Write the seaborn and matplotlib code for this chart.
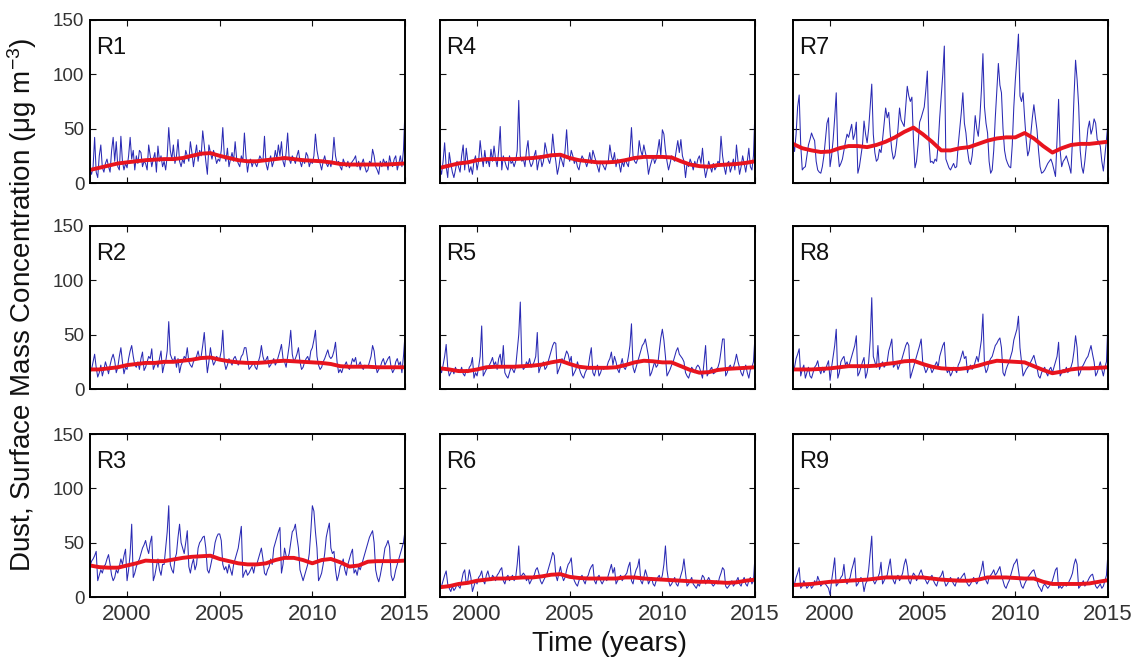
import numpy as np
import pandas as pd
import matplotlib
matplotlib.use("Agg")
import matplotlib.pyplot as plt
import seaborn as sns

# ---------------- data (monthly, Jan 1998 .. Jan 2015) ----------------
R1 = [12, 8, 15, 42, 10, 5, 25, 35, 14, 10, 18, 22,
      15, 10, 30, 42, 20, 38, 15, 12, 43, 20, 12, 18,
      14, 25, 42, 22, 30, 12, 25, 18, 30, 28, 15, 20,
      18, 12, 35, 25, 15, 22, 28, 10, 34, 20, 25, 15,
      20, 12, 25, 51, 30, 22, 35, 18, 25, 40, 20, 15,
      22, 18, 30, 25, 20, 38, 28, 15, 25, 35, 20, 30,
      25, 48, 35, 20, 8, 35, 28, 22, 30, 25, 18, 22,
      20, 30, 51, 25, 20, 32, 15, 22, 28, 20, 38, 22,
      18, 15, 25, 20, 46, 25, 10, 20, 22, 15, 20, 18,
      15, 20, 25, 22, 20, 43, 18, 12, 20, 25, 15, 20,
      30, 22, 35, 25, 38, 20, 15, 28, 46, 22, 18, 25,
      22, 18, 25, 30, 20, 15, 22, 18, 28, 25, 15, 20,
      18, 25, 45, 30, 22, 18, 12, 20, 25, 18, 15, 20,
      15, 22, 42, 25, 18, 20, 15, 12, 22, 18, 15, 20,
      14, 18, 20, 22, 25, 15, 20, 12, 18, 22, 15, 10,
      12, 20, 18, 31, 25, 15, 12, 8, 20, 15, 22, 18,
      20, 12, 25, 18, 15, 22, 25, 12, 18, 25, 15, 30,
      68]
R2 = [15, 18, 25, 32, 20, 11, 15, 22, 12, 18, 25, 20,
      14, 22, 28, 32, 26, 15, 20, 30, 38, 25, 14, 20,
      18, 28, 35, 40, 30, 22, 20, 25, 18, 28, 34, 17,
      20, 25, 30, 28, 37, 18, 22, 25, 20, 28, 35, 15,
      22, 25, 35, 62, 32, 28, 25, 30, 20, 28, 15, 22,
      25, 30, 28, 38, 25, 22, 20, 25, 28, 30, 35, 28,
      30, 40, 52, 32, 15, 25, 38, 28, 22, 25, 30, 28,
      28, 35, 54, 25, 18, 22, 28, 25, 22, 28, 30, 26,
      22, 25, 30, 32, 38, 38, 28, 18, 20, 22, 25, 20,
      18, 25, 30, 40, 30, 25, 27, 30, 20, 22, 25, 28,
      22, 25, 30, 35, 41, 28, 25, 20, 30, 40, 54, 32,
      25, 28, 32, 38, 25, 18, 20, 25, 28, 30, 25, 35,
      38, 45, 54, 30, 22, 18, 20, 25, 28, 32, 36, 30,
      28, 30, 35, 43, 25, 15, 18, 15, 20, 22, 25, 20,
      18, 22, 28, 25, 29, 20, 22, 25, 20, 18, 22, 20,
      20, 25, 30, 40, 35, 22, 15, 18, 20, 25, 28, 22,
      25, 28, 30, 20, 15, 18, 25, 28, 22, 25, 15, 30,
      50]
R3 = [28, 33, 35, 38, 42, 15, 20, 25, 22, 28, 30, 35,
      39, 30, 20, 15, 18, 25, 22, 28, 35, 30, 38, 44,
      15, 25, 40, 67, 18, 22, 28, 32, 35, 40, 45, 48,
      52, 45, 40, 50, 56, 15, 20, 28, 35, 25, 20, 30,
      30, 45, 60, 84, 30, 25, 22, 35, 40, 55, 67, 50,
      45, 40, 50, 61, 28, 22, 30, 35, 25, 30, 45, 50,
      52, 55, 56, 45, 25, 22, 28, 35, 40, 50, 55, 58,
      58, 52, 30, 25, 28, 22, 30, 25, 20, 30, 35, 40,
      45, 55, 65, 18, 22, 25, 20, 22, 25, 28, 22, 30,
      30, 35, 40, 45, 35, 22, 20, 25, 28, 35, 30, 45,
      50, 55, 60, 64, 22, 30, 45, 38, 35, 40, 50, 60,
      62, 67, 55, 45, 25, 20, 15, 20, 25, 30, 40, 60,
      84, 79, 60, 45, 15, 18, 22, 30, 40, 55, 62, 68,
      45, 40, 42, 25, 15, 20, 28, 30, 35, 25, 20, 30,
      35, 40, 44, 22, 25, 20, 28, 25, 30, 35, 40, 45,
      50, 55, 58, 61, 50, 25, 18, 14, 20, 28, 35, 45,
      48, 52, 46, 20, 15, 18, 25, 30, 35, 40, 45, 50,
      61]
R4 = [14, 8, 20, 37, 15, 5, 28, 18, 10, 5, 12, 20,
      15, 10, 25, 35, 12, 32, 20, 10, 15, 8, 20, 25,
      12, 20, 39, 25, 15, 30, 18, 22, 15, 31, 20, 34,
      22, 15, 30, 52, 12, 25, 20, 15, 12, 25, 18, 20,
      15, 20, 30, 76, 25, 20, 22, 15, 30, 39, 20, 15,
      18, 25, 30, 12, 20, 25, 15, 20, 37, 30, 22, 18,
      25, 45, 30, 20, 8, 15, 25, 20, 15, 30, 49, 25,
      20, 30, 25, 18, 22, 15, 12, 20, 25, 22, 20, 15,
      20, 28, 18, 30, 25, 20, 15, 10, 20, 18, 15, 12,
      18, 20, 35, 25, 20, 28, 15, 22, 18, 10, 20, 15,
      22, 18, 15, 28, 51, 25, 20, 18, 22, 39, 30, 25,
      35, 28, 22, 8, 15, 20, 25, 18, 22, 30, 40, 25,
      49, 45, 30, 20, 12, 18, 25, 22, 20, 30, 39, 28,
      40, 25, 20, 5, 18, 15, 22, 18, 12, 20, 15, 22,
      25, 18, 32, 15, 5, 12, 20, 15, 10, 18, 12, 15,
      20, 18, 43, 25, 15, 8, 18, 20, 10, 15, 22, 12,
      35, 20, 8, 15, 25, 18, 10, 20, 32, 15, 12, 25,
      68]
R5 = [20, 15, 22, 30, 41, 20, 12, 15, 18, 14, 20, 16,
      18, 15, 20, 14, 12, 18, 15, 20, 22, 29, 10, 15,
      12, 20, 30, 58, 12, 15, 18, 20, 22, 25, 29, 22,
      25, 18, 28, 32, 20, 40, 15, 12, 10, 15, 20, 18,
      15, 20, 35, 50, 80, 22, 18, 20, 25, 22, 28, 20,
      22, 25, 30, 52, 15, 20, 22, 25, 18, 20, 25, 30,
      35, 40, 43, 42, 14, 18, 22, 28, 25, 30, 35, 32,
      25, 30, 12, 15, 18, 25, 20, 15, 12, 10, 15, 18,
      20, 30, 38, 15, 12, 18, 22, 12, 15, 20, 18, 20,
      20, 25, 28, 34, 22, 30, 25, 18, 15, 22, 28, 20,
      18, 22, 30, 40, 60, 20, 15, 20, 25, 30, 35, 40,
      42, 46, 38, 30, 12, 15, 20, 25, 20, 22, 35, 47,
      55, 45, 30, 12, 15, 18, 22, 25, 30, 35, 38, 32,
      30, 28, 25, 15, 12, 10, 15, 20, 18, 15, 20, 22,
      20, 15, 10, 25, 40, 12, 15, 18, 20, 14, 15, 18,
      20, 25, 35, 46, 46, 12, 15, 20, 22, 18, 20, 25,
      32, 25, 20, 15, 12, 18, 22, 15, 10, 18, 20, 25,
      49]
R6 = [8, 10, 15, 20, 24, 12, 8, 5, 10, 6, 8, 12,
      10, 8, 15, 22, 25, 12, 15, 25, 18, 5, 10, 15,
      12, 18, 20, 24, 15, 12, 20, 24, 18, 15, 20, 18,
      15, 20, 22, 25, 27, 15, 12, 18, 20, 15, 18, 20,
      15, 18, 30, 47, 18, 20, 22, 20, 15, 18, 12, 15,
      18, 20, 25, 27, 22, 15, 12, 15, 18, 20, 25, 30,
      35, 41, 38, 20, 15, 22, 28, 20, 15, 18, 25, 30,
      32, 36, 20, 15, 12, 10, 15, 18, 20, 15, 12, 18,
      20, 25, 28, 30, 15, 12, 18, 20, 15, 12, 15, 18,
      15, 20, 25, 30, 22, 27, 12, 15, 18, 20, 15, 18,
      20, 22, 28, 32, 15, 12, 20, 25, 28, 35, 15, 12,
      18, 25, 20, 12, 15, 18, 12, 10, 15, 18, 20, 15,
      20, 30, 47, 25, 15, 10, 12, 15, 18, 12, 10, 15,
      20, 25, 35, 22, 10, 12, 15, 18, 12, 10, 8, 12,
      10, 15, 20, 18, 12, 15, 18, 15, 12, 10, 12, 15,
      12, 18, 22, 27, 25, 10, 8, 10, 12, 15, 10, 12,
      15, 18, 12, 10, 15, 18, 12, 10, 15, 18, 12, 15,
      38]
R7 = [37, 29, 45, 70, 81, 35, 12, 14, 15, 25, 35, 40,
      46, 42, 39, 20, 12, 10, 9, 15, 25, 40, 55, 60,
      15, 25, 40, 60, 83, 30, 15, 18, 22, 30, 38, 45,
      42, 48, 54, 40, 45, 56, 9, 15, 25, 35, 57, 45,
      37, 50, 70, 91, 45, 28, 20, 22, 31, 28, 40, 55,
      69, 60, 65, 45, 30, 22, 25, 35, 50, 69, 58, 55,
      52, 70, 89, 80, 75, 79, 40, 14, 20, 35, 56, 60,
      65, 70, 85, 103, 40, 19, 20, 18, 22, 20, 35, 60,
      80, 100, 126, 22, 18, 14, 12, 15, 18, 14, 15, 35,
      50, 65, 83, 55, 46, 30, 20, 17, 25, 40, 62, 50,
      43, 60, 85, 119, 70, 55, 46, 20, 9, 12, 30, 60,
      85, 110, 90, 83, 50, 30, 22, 18, 15, 14, 35, 70,
      95, 115, 137, 80, 75, 83, 60, 40, 25, 30, 45, 60,
      72, 60, 49, 30, 15, 9, 10, 12, 15, 18, 20, 22,
      18, 12, 6, 40, 77, 30, 15, 20, 22, 25, 20, 15,
      9, 40, 80, 113, 95, 71, 30, 15, 9, 20, 35, 50,
      57, 45, 50, 59, 55, 40, 38, 34, 20, 11, 25, 40,
      56]
R8 = [15, 20, 28, 32, 37, 12, 18, 22, 10, 15, 20, 12,
      10, 15, 20, 22, 26, 18, 14, 20, 15, 18, 22, 26,
      8, 20, 30, 40, 55, 10, 15, 25, 28, 30, 22, 25,
      20, 25, 30, 35, 40, 49, 12, 15, 20, 25, 29, 10,
      15, 25, 45, 84, 30, 25, 20, 40, 18, 22, 25, 20,
      22, 25, 35, 40, 46, 20, 22, 25, 18, 22, 25, 30,
      35, 40, 43, 40, 10, 15, 20, 25, 30, 35, 40, 46,
      25, 20, 15, 18, 22, 20, 15, 18, 22, 25, 20, 30,
      35, 40, 43, 20, 15, 18, 12, 15, 20, 18, 15, 22,
      25, 30, 35, 28, 30, 15, 20, 22, 18, 20, 25, 30,
      25, 35, 45, 69, 22, 15, 18, 25, 28, 30, 35, 40,
      42, 45, 47, 38, 15, 12, 18, 22, 25, 30, 35, 45,
      50, 55, 67, 38, 25, 12, 15, 18, 20, 22, 25, 28,
      31, 25, 20, 12, 10, 15, 18, 20, 15, 12, 18, 20,
      15, 20, 25, 30, 43, 12, 15, 18, 15, 20, 15, 18,
      20, 25, 35, 49, 38, 12, 15, 20, 22, 25, 28, 30,
      35, 40, 32, 25, 12, 15, 20, 25, 18, 12, 20, 25,
      63]
R9 = [10, 12, 18, 22, 27, 8, 10, 15, 12, 8, 10, 12,
      8, 10, 15, 12, 19, 15, 10, 12, 14, 12, 10, 8,
      2, 15, 25, 36, 10, 12, 15, 18, 20, 30, 15, 12,
      15, 18, 25, 30, 36, 10, 12, 15, 18, 15, 5, 12,
      15, 25, 40, 56, 15, 12, 15, 18, 22, 32, 12, 15,
      18, 20, 28, 35, 20, 15, 12, 18, 20, 15, 18, 22,
      30, 35, 28, 15, 12, 18, 22, 20, 15, 18, 22, 25,
      20, 18, 15, 12, 15, 18, 20, 15, 12, 10, 15, 18,
      20, 24, 15, 10, 12, 15, 18, 15, 12, 10, 15, 18,
      15, 18, 20, 22, 15, 12, 10, 12, 15, 18, 15, 12,
      15, 20, 25, 33, 20, 15, 12, 18, 20, 22, 25, 20,
      22, 25, 28, 20, 15, 10, 8, 12, 15, 20, 25, 30,
      32, 35, 25, 15, 10, 8, 12, 15, 18, 20, 22, 24,
      25, 20, 15, 10, 8, 5, 10, 12, 10, 8, 10, 12,
      15, 20, 25, 27, 8, 10, 8, 10, 12, 10, 12, 15,
      18, 22, 30, 35, 30, 8, 10, 12, 15, 10, 12, 15,
      18, 20, 21, 15, 10, 8, 10, 12, 8, 10, 15, 20,
      41]

# smoothed trend, half-yearly from 1998.0 to 2015.0
T1 = [12, 14, 16, 18, 19, 20, 21, 21.5, 22, 22, 23, 25, 27, 27.5, 25, 23, 21, 20,
      20, 21, 22, 23, 22, 21, 20.5, 20, 19, 17.5, 17, 17, 17, 17, 17, 17.5, 18]
T2 = [18, 18, 19, 20, 22, 23, 24, 24, 25, 25, 26, 27, 28.5, 29, 27, 25.5, 24.5, 24,
      24, 24.5, 25.5, 26, 25.5, 25, 24.5, 24, 23, 21, 20.5, 20.5, 20.5, 20, 20, 20, 20]
T3 = [29, 27.5, 27, 27, 29, 31, 33.5, 33, 33, 34.5, 36, 37, 37.5, 38, 35, 33, 31, 30,
      30, 31, 34, 36, 36, 34, 31, 34, 35, 32, 28, 29, 32.5, 33, 33, 33, 33.5]
T4 = [14, 16, 18, 19, 21, 22, 22, 22, 22, 22.5, 23, 24, 25.5, 26, 23, 21, 20, 19,
      19, 19.5, 21, 23, 24, 24, 24, 23.5, 20, 17, 15.5, 15, 16.5, 17, 17.5, 18.5, 20]
T5 = [19, 18, 16.5, 16.5, 18, 20, 20.5, 20.5, 20.5, 21, 21.5, 22.5, 24.5, 26, 23, 20.5, 19.5, 19.5,
      19.5, 20, 22, 24.5, 26, 25.5, 24.5, 24.5, 21, 17.5, 15, 15.5, 17.5, 18.5, 19, 19.5, 20]
T6 = [9, 10, 12, 13, 15, 16, 17, 17, 17.5, 18, 18, 19, 20.5, 21, 18.5, 17.5, 17, 17,
      17, 17, 18, 18, 17, 16.5, 16, 15.5, 15, 14.5, 14, 14, 13.5, 13, 13.5, 15, 16]
T7 = [36, 32, 30, 28.5, 29, 32, 34, 34, 33, 35, 38, 42, 47, 51, 45, 38, 30, 30,
      32, 33, 36, 39, 41, 42, 42, 46, 41, 34, 28, 32, 35, 36, 36, 37, 38]
T8 = [18, 18, 18, 18.5, 19, 20, 21, 21, 21, 21.5, 23, 24, 25.5, 26, 23, 20.5, 19, 18.5,
      18.5, 19.5, 21.5, 24, 26, 25.5, 25, 24.5, 21, 17.5, 14.5, 16, 18, 19, 19, 19.5, 20]
T9 = [11, 11.5, 12, 13, 14, 14.5, 15, 15.5, 16, 17, 18, 18, 18, 18, 18, 17, 16, 15.5,
      15, 15, 16, 18, 18, 18, 17.5, 17, 17, 14, 12, 12, 12, 12, 12.5, 14, 15.5]

regions = ["R1", "R2", "R3", "R4", "R5", "R6", "R7", "R8", "R9"]
monthly = [R1, R2, R3, R4, R5, R6, R7, R8, R9]
trends = [T1, T2, T3, T4, T5, T6, T7, T8, T9]
x_ticks = [2000, 2005, 2010, 2015]
y_ticks = [0, 50, 100, 150]

# ---------------- figure ----------------
sns.set_theme(style="white")
plt.rcParams["font.family"] = ["Liberation Sans", "DejaVu Sans"]
plt.rcParams["mathtext.fontset"] = "custom"
plt.rcParams["mathtext.rm"] = "Liberation Sans"
plt.rcParams["mathtext.it"] = "Liberation Sans"

fig = plt.figure(figsize=(11.4, 6.61), dpi=100)
W, H = 1140, 661
col_left = [90, 440, 793]
row_top = [20, 226, 434]
aw, ah = 315, 163

for i, (name, vals, tr) in enumerate(zip(regions, monthly, trends)):
    col, row = i // 3, i % 3
    ax = fig.add_axes([col_left[col] / W, 1 - (row_top[row] + ah) / H, aw / W, ah / H])
    t = 1998 + np.arange(len(vals)) / 12.0
    tt = 1998 + np.arange(len(tr)) * 0.5
    df = pd.DataFrame({"year": t, "conc": vals})
    dt = pd.DataFrame({"year": tt, "conc": tr})
    sns.lineplot(data=df, x="year", y="conc", ax=ax, color="#2a2ab4", lw=0.75)
    sns.lineplot(data=dt, x="year", y="conc", ax=ax, color="#e8141e", lw=2.8)
    ax.set_xlim(1998, 2015)
    ax.set_ylim(0, 150)
    ax.set_xticks(x_ticks)
    ax.set_yticks(y_ticks)
    ax.set_xlabel("")
    ax.set_ylabel("")
    ax.tick_params(direction="in", length=4, width=0.8, top=True, right=True,
                   bottom=True, left=True, colors="#111111",
                   labelcolor="#333333")
    ax.tick_params(axis="x", labelsize=16, pad=5)
    ax.tick_params(axis="y", labelsize=13.5, pad=4)
    if col != 0:
        ax.set_yticklabels([])
    if row != 2:
        ax.set_xticklabels([])
    for s in ax.spines.values():
        s.set_color("black")
        s.set_linewidth(1.4)
        s.set_visible(True)
    ax.text(0.02, 0.895, name, transform=ax.transAxes, fontsize=17,
            ha="left", va="top", color="#111111")

fig.text(610 / W, 1 - 644 / H, "Time (years)", ha="center", va="center",
         fontsize=20, color="#111111")
fig.text(22 / W, 1 - 305 / H, r"Dust, Surface Mass Concentration ($\mu$g m$^{-3}$)",
         ha="center", va="center", rotation=90, fontsize=20, color="#111111")

fig.savefig("out.png", dpi=100)
